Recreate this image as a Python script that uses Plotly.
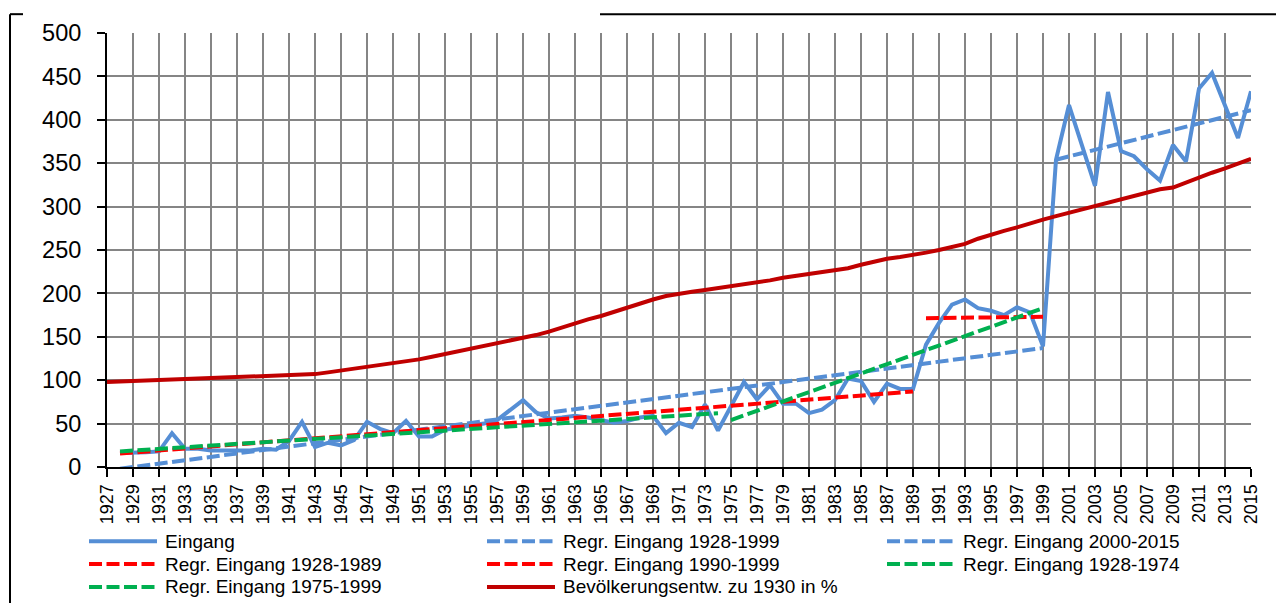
import plotly.graph_objects as go

# ---------------- data ----------------
years_pop = list(range(1927, 2016))
pop = [98, 98.5, 99, 100, 100.5, 101, 101.5, 102, 102, 102.5,
       103, 103.5, 104, 104.5, 105, 105.5, 107, 109, 111, 113,
       115, 117, 119, 121, 124, 127, 130, 133, 136, 139,
       142, 145, 148, 152, 156, 161, 165, 170, 174, 179,
       184, 188, 193, 197, 200, 202, 204, 206, 208, 210,
       212, 215, 218, 220, 222, 224, 226, 229, 233, 237,
       240, 242, 244, 247, 250, 253, 257, 263, 268, 272,
       276, 281, 285, 289, 293, 297, 301, 305, 309, 312,
       316, 320, 322, 328, 334, 339, 344, 349, 355]

years_in = list(range(1928, 2016))
eingang = [16, 16, 17, 18, 39, 21, 21, 19, 19, 18,
           19, 21, 20, 30, 52, 23, 28, 25, 31, 52,
           44, 39, 53, 35, 35, 43, 45, 48, 50, 54,
           65, 77, 63, 56, 57, 59, 57, 54, 51, 53,
           57, 59, 39, 51, 46, 72, 42, 70, 98, 78,
           94, 73, 73, 62, 66, 77, 102, 99, 75, 96,
           90, 90, 141, 166, 187, 193, 183, 180, 175, 184,
           178, 139, 354, 417, 370, 324, 432, 364, 358, 343,
           330, 371, 352, 436, 454, 417, 379, 433]

# regression lines: start / end (year, value)
reg_28_99_x, reg_28_99_y = [1928, 1999], [-2, 137]
reg_00_15_x, reg_00_15_y = [2000, 2015], [354, 411]
reg_28_89_x, reg_28_89_y = [1928, 1989], [15.5, 87]
reg_90_99_x, reg_90_99_y = [1990, 1999], [171.5, 173]
reg_28_74_x, reg_28_74_y = [1928, 1974], [18, 62]
reg_75_99_x, reg_75_99_y = [1975, 1999], [54, 183]

names = ["Eingang", "Regr. Eingang 1928-1999", "Regr. Eingang 2000-2015",
         "Regr. Eingang 1928-1989", "Regr. Eingang 1990-1999", "Regr. Eingang 1928-1974",
         "Regr. Eingang 1975-1999", "Bevölkerungsentw. zu 1930 in %"]

BLUE = "#558ED5"
RED = "#FF0000"
GREEN = "#00B050"
DARKRED = "#C00000"
DASH = "13px,4.5px"
FONT = "Liberation Sans, Arial, sans-serif"

series = [
    (years_in, eingang, BLUE, "solid"),
    (reg_28_99_x, reg_28_99_y, BLUE, DASH),
    (reg_00_15_x, reg_00_15_y, BLUE, DASH),
    (reg_28_89_x, reg_28_89_y, RED, DASH),
    (reg_90_99_x, reg_90_99_y, RED, DASH),
    (reg_28_74_x, reg_28_74_y, GREEN, DASH),
    (reg_75_99_x, reg_75_99_y, GREEN, DASH),
    (years_pop, pop, DARKRED, "solid"),
]

fig = go.Figure()
for (x, y, c, d), n in zip(series, names):
    fig.add_trace(go.Scatter(x=x, y=y, mode="lines", name=n, showlegend=False,
                             line=dict(color=c, width=4, dash=d)))

# ---------------- layout ----------------
# the page body has an 8px margin, so the figure is drawn 8px smaller
OFF = 8
W, H = 1284 - OFF, 603 - OFF
# target screen positions of the plot area
SX0, SX1, SY0, SY1 = 107, 1251, 29, 467
L, T = SX0 - OFF, SY0 - OFF
R, B = W - (SX1 - OFF), H - (SY1 - OFF)
PW, PH = W - L - R, H - T - B

def px(sx):
    return (sx - SX0) / PW

def py(sy):
    return (SY1 - sy) / PH

shapes = []
annotations = []

# manual legend (3 columns x 3 rows), screen coordinates
col_x = [89, 487, 887]
row_y = [542, 565, 588]
sym_len = 68
for i, ((x, y, c, d), n) in enumerate(zip(series, names)):
    r, ci = divmod(i, 3)
    x0 = col_x[ci]
    yy = row_y[r]
    shapes.append(dict(type="line", xref="paper", yref="paper",
                       x0=px(x0), x1=px(x0 + sym_len), y0=py(yy), y1=py(yy),
                       line=dict(color=c, width=4, dash=d)))
    annotations.append(dict(xref="paper", yref="paper", x=px(x0 + sym_len + 6), y=py(yy),
                            xanchor="left", yanchor="middle", showarrow=False, text=n,
                            font=dict(family=FONT, size=19, color="#000000")))

# outer chart border (partially visible)
shapes.append(dict(type="line", xref="paper", yref="paper", x0=px(10), x1=px(10),
                   y0=py(10), y1=py(610), line=dict(color="black", width=2)))
shapes.append(dict(type="line", xref="paper", yref="paper", x0=px(10), x1=px(23),
                   y0=py(10), y1=py(10), line=dict(color="black", width=2)))
shapes.append(dict(type="line", xref="paper", yref="paper", x0=px(600), x1=px(1290),
                   y0=py(10), y1=py(10), line=dict(color="black", width=2)))

fig.update_layout(
    width=W, height=H, autosize=False,
    margin=dict(l=L, r=R, t=T, b=B, pad=0),
    paper_bgcolor="white", plot_bgcolor="white",
    font=dict(family=FONT, color="black"),
    showlegend=False,
    shapes=shapes, annotations=annotations,
    xaxis=dict(range=[1927, 2015], tickmode="linear", tick0=1927, dtick=2,
               tickangle=-90, tickfont=dict(size=18, family=FONT, color="black"),
               showgrid=True, gridcolor="#858585", gridwidth=1.5,
               showline=True, linecolor="black", linewidth=2,
               ticks="outside", ticklen=8, tickwidth=1.5, tickcolor="black",
               zeroline=False, fixedrange=True),
    yaxis=dict(range=[0, 500], tickmode="linear", tick0=0, dtick=50,
               tickfont=dict(size=23.5, family=FONT, color="black"),
               showgrid=True, gridcolor="#858585", gridwidth=1.5,
               showline=True, linecolor="black", linewidth=2,
               ticks="outside", ticklen=8, tickwidth=1.5, tickcolor="black",
               ticklabelstandoff=11, zeroline=False, fixedrange=True),
)

fig.write_html("out.html")
